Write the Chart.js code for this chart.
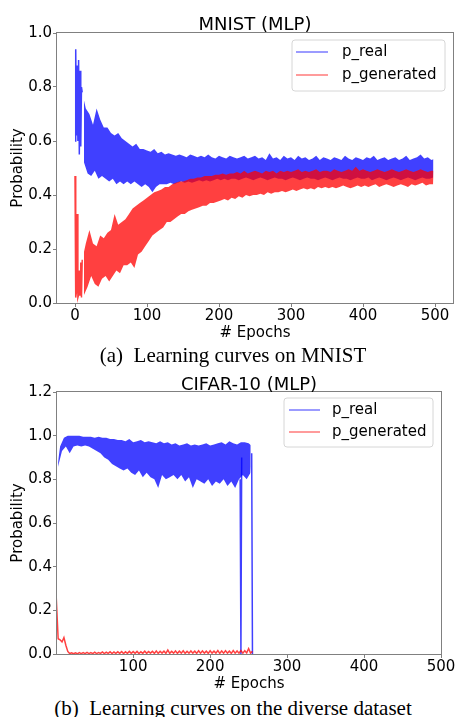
<!DOCTYPE html>
<html><head><meta charset="utf-8">
<script src="https://cdn.jsdelivr.net/npm/chart.js@4"></script>
<style>
html,body{margin:0;padding:0;background:#fff;}
body{width:456px;height:717px;position:relative;overflow:hidden;}
canvas{position:absolute;left:0;}
.t{position:absolute;font-family:'DejaVu Sans';font-size:18px;line-height:18px;color:#000;white-space:nowrap;transform:translateX(-50%);}
.cap{position:absolute;font-family:'Liberation Serif';font-size:21px;line-height:21px;color:#000;white-space:nowrap;transform:translateX(-50%);}
</style></head><body>
<canvas id="c1" width="456" height="345" style="top:0"></canvas>
<canvas id="c2" width="456" height="335" style="top:360px"></canvas>
<div class="t" style="left:255px;top:15px">MNIST (MLP)</div>
<div class="cap" style="left:233px;top:345px">(a)&nbsp; Learning curves on MNIST</div>
<div class="t" style="left:249px;top:375px">CIFAR-10 (MLP)</div>
<div class="cap" style="left:233px;top:698px">(b)&nbsp; Learning curves on the diverse dataset</div>
<script>
// ---------- DATA ----------
const seriesLabels = ['p_real', 'p_generated'];
// MNIST, first epochs read one by one
const mnistEarlyEpochs = [0,1,2,3,4,5,6,7,8,9,10];
const mnistRealEarly   = [0.60,0.94,0.62,0.88,0.60,0.90,0.55,0.86,0.58,0.80,0.78];
const mnistGenEarly    = [0.47,0.02,0.04,0.33,0.02,0.03,0.12,0.03,0.15,0.02,0.16];
// MNIST band (noisy oscillation): upper envelope at epochs 10,15,...,500 ; lower envelope at 12.5,...,497.5
const mnistRealHi = [
 0.78,0.72,0.70,0.66,0.72,0.68,0.65,0.65,
 0.63,0.62,0.63,0.61,0.60,0.59,0.58,0.59,0.57,0.57,
 0.565,0.56,0.57,0.555,0.56,0.55,0.555,0.55,0.545,0.55,
 0.545,0.54,0.55,0.545,0.54,0.545,0.54,0.55,0.54,0.535,
 0.545,0.54,0.535,0.545,0.54,0.535,0.54,0.545,0.535,0.54,
 0.545,0.535,0.54,0.53,0.555,0.535,0.54,0.53,0.545,0.535,
 0.54,0.53,0.545,0.535,0.54,0.53,0.535,0.545,0.53,0.54,
 0.535,0.53,0.54,0.535,0.53,0.545,0.535,0.53,0.54,0.535,
 0.53,0.54,0.535,0.545,0.53,0.535,0.54,0.53,0.535,0.54,
 0.53,0.535,0.545,0.53,0.535,0.54,0.55,0.535,0.54,0.53,0.535];
const mnistRealLo = [
 0.52,0.48,0.47,0.49,0.46,0.47,0.46,0.45,
 0.46,0.44,0.45,0.44,0.45,0.44,0.45,0.44,0.43,0.44,
 0.43,0.41,0.43,0.44,0.44,0.44,0.445,0.44,0.445,0.45,
 0.445,0.45,0.445,0.45,0.455,0.45,0.455,0.45,0.455,0.46,
 0.455,0.46,0.455,0.46,0.46,0.455,0.46,0.465,0.46,0.455,
 0.46,0.465,0.46,0.455,0.46,0.465,0.46,0.46,0.455,0.46,
 0.465,0.46,0.455,0.46,0.465,0.46,0.46,0.455,0.46,0.465,
 0.46,0.455,0.46,0.465,0.46,0.46,0.455,0.46,0.465,0.46,
 0.46,0.465,0.455,0.46,0.465,0.46,0.455,0.46,0.465,0.46,
 0.455,0.46,0.465,0.46,0.455,0.46,0.465,0.46,0.46,0.465];
const mnistGenHi = [
 0.16,0.22,0.27,0.22,0.21,0.25,0.24,0.26,
 0.27,0.33,0.29,0.30,0.31,0.33,0.35,0.36,0.37,0.38,
 0.39,0.40,0.41,0.415,0.42,0.43,0.43,0.44,0.445,0.45,
 0.45,0.455,0.46,0.46,0.465,0.465,0.47,0.47,0.47,0.475,
 0.475,0.48,0.475,0.48,0.48,0.485,0.48,0.49,0.48,0.485,
 0.49,0.485,0.48,0.49,0.485,0.49,0.48,0.49,0.485,0.49,
 0.485,0.49,0.495,0.485,0.49,0.485,0.49,0.495,0.485,0.49,
 0.49,0.485,0.495,0.49,0.485,0.49,0.495,0.49,0.505,0.49,
 0.495,0.49,0.485,0.49,0.495,0.49,0.485,0.49,0.495,0.49,
 0.485,0.49,0.495,0.49,0.485,0.49,0.495,0.49,0.485,0.49,0.49];
const mnistGenLo = [
 0.03,0.06,0.10,0.07,0.06,0.09,0.10,0.08,
 0.10,0.12,0.11,0.14,0.14,0.15,0.13,0.18,0.19,0.21,
 0.23,0.25,0.26,0.27,0.28,0.30,0.30,0.31,0.32,0.33,
 0.33,0.34,0.345,0.35,0.355,0.36,0.36,0.37,0.37,0.375,
 0.38,0.385,0.38,0.39,0.385,0.395,0.39,0.40,0.395,0.40,
 0.40,0.405,0.40,0.41,0.405,0.41,0.41,0.415,0.41,0.415,
 0.42,0.415,0.42,0.425,0.42,0.425,0.42,0.43,0.425,0.43,
 0.425,0.43,0.425,0.43,0.435,0.43,0.425,0.43,0.435,0.43,
 0.435,0.43,0.435,0.44,0.43,0.435,0.44,0.435,0.43,0.435,
 0.44,0.435,0.43,0.44,0.435,0.44,0.445,0.435,0.44,0.44];
// CIFAR-10 p_real band: upper at epochs 0,5,...,255 ; lower at 2.5,...,252.5
const cifarRealHi = [
 0.82,0.95,0.99,1.00,1.00,1.00,1.00,0.995,0.995,0.995,
 0.99,0.995,0.99,0.99,0.985,0.985,0.98,0.98,0.975,0.985,
 0.97,0.975,0.98,0.97,0.975,0.97,0.965,0.975,0.965,0.97,
 0.96,0.965,0.955,0.96,0.965,0.955,0.96,0.955,0.96,0.965,
 0.955,0.96,0.965,0.97,0.96,0.975,0.965,0.96,0.97,0.97,
 0.965,0.95];
const cifarRealLo = [
 0.86,0.93,0.95,0.92,0.95,0.955,0.95,0.955,0.95,0.94,
 0.93,0.92,0.90,0.89,0.87,0.86,0.85,0.84,0.85,0.83,
 0.82,0.84,0.81,0.83,0.81,0.80,0.76,0.82,0.80,0.81,
 0.82,0.80,0.82,0.79,0.81,0.76,0.80,0.79,0.78,0.80,
 0.77,0.79,0.78,0.80,0.77,0.79,0.76,0.80,0.82,0.80,
 0.83];
// CIFAR-10 p_real sudden drops, read epoch by epoch
const cifarDropEpochs = [239,240,241,254,255];
const cifarDropValues = [0.80,0.00,0.90,0.92,0.00];
// CIFAR-10 p_generated: upper at epochs 0,5,...,255 ; lower at 2.5,...,252.5
const cifarGenHi = [
 0.26,0.065,0.075,0.012,0.005,0.005,0.006,0.006,0.007,0.006,
 0.008,0.007,0.009,0.008,0.010,0.009,0.010,0.011,0.010,0.012,
 0.011,0.012,0.010,0.013,0.011,0.012,0.014,0.012,0.013,0.018,
 0.012,0.014,0.013,0.015,0.012,0.014,0.013,0.015,0.014,0.013,
 0.015,0.013,0.016,0.014,0.015,0.013,0.016,0.014,0.016,0.015,
 0.025,0.012];
const cifarGenLo = [
 0.07,0.055,0.04,0.002,0.001,0.001,0.002,0.002,0.002,0.002,
 0.002,0.003,0.002,0.003,0.002,0.003,0.003,0.002,0.003,0.003,
 0.003,0.002,0.003,0.003,0.004,0.003,0.003,0.004,0.003,0.003,
 0.004,0.003,0.004,0.003,0.004,0.004,0.003,0.004,0.004,0.003,
 0.004,0.004,0.003,0.004,0.004,0.003,0.004,0.004,0.004,0.005,
 0.004];
const mnistXTicks = [0,100,200,300,400,500];
const mnistYTicks = [0.0,0.2,0.4,0.6,0.8,1.0];
const cifarXTicks = [100,200,300,400,500];
const cifarYTicks = [0.0,0.2,0.4,0.6,0.8,1.0,1.2];

// ---------- BUILD ----------
const SAMPLE_STEP = 5;
function samples(values, x0){ return values.map((v,i)=>({x:x0 + i*SAMPLE_STEP, y:v})); }
function pairs(xs, ys){
  const out = [];
  xs.forEach((x,i)=>{
    if (i > 0 && x - xs[i-1] > 1) out.push({x:(x + xs[i-1])/2, y:null});
    out.push({x:x, y:ys[i]});
  });
  return out;
}
function zigzag(hi, lo, x0){
  const pts = [];
  for (let i = 0; i < hi.length; i++){
    pts.push({x: x0 + i*SAMPLE_STEP, y: hi[i]});
    if (i < lo.length) pts.push({x: x0 + i*SAMPLE_STEP + SAMPLE_STEP/2, y: lo[i]});
  }
  return pts;
}
const BLUE = 'rgba(0,0,255,0.75)', RED = 'rgba(255,0,0,0.75)';
const FONT = "'DejaVu Sans'";
Chart.defaults.font.family = FONT;
Chart.defaults.color = '#000';

function band(hi, lo, x0, color, order, legend){
  return [
    {label:legend, legendColor:color, data:samples(hi, x0), borderColor:'transparent', backgroundColor:color, fill:'+1', pointRadius:0, tension:0, order:order},
    {data:samples(lo, x0 + SAMPLE_STEP/2), borderColor:'transparent', backgroundColor:'transparent', fill:false, pointRadius:0, tension:0, order:order}
  ];
}
function line(data, color, order, width){
  return {data:data, borderColor:color, borderWidth:width || 1.5, fill:false, pointRadius:0, tension:0, spanGaps:false, order:order};
}

const spines = {
  id:'spines',
  afterDraw(chart){
    const {ctx, chartArea:a} = chart;
    ctx.save();
    ctx.strokeStyle = '#808080'; ctx.lineWidth = 1;
    ctx.strokeRect(Math.round(a.left)-0.5, Math.round(a.top)-0.5, Math.round(a.right-a.left)+1, Math.round(a.bottom-a.top)+1);
    ctx.restore();
  }
};
const boxLegend = {
  id:'boxLegend',
  afterDraw(chart, args, o){
    const ctx = chart.ctx;
    ctx.save();
    const r = 3, x = o.x, y = o.y, w = o.w, h = o.h;
    ctx.beginPath();
    ctx.moveTo(x+r, y); ctx.lineTo(x+w-r, y); ctx.arcTo(x+w, y, x+w, y+r, r);
    ctx.lineTo(x+w, y+h-r); ctx.arcTo(x+w, y+h, x+w-r, y+h, r);
    ctx.lineTo(x+r, y+h); ctx.arcTo(x, y+h, x, y+h-r, r);
    ctx.lineTo(x, y+r); ctx.arcTo(x, y, x+r, y, r); ctx.closePath();
    ctx.fillStyle = 'rgba(255,255,255,0.8)'; ctx.fill();
    ctx.strokeStyle = '#d6d6d6'; ctx.lineWidth = 1; ctx.stroke();
    chart.data.datasets.filter(ds => ds.label).forEach((ds, i) => {
      const ly = o.rows[i];
      ctx.globalAlpha = 0.7;
      ctx.strokeStyle = ds.legendColor; ctx.lineWidth = 1.5;
      ctx.beginPath(); ctx.moveTo(o.lx1, ly); ctx.lineTo(o.lx2, ly); ctx.stroke();
      ctx.globalAlpha = 1;
      ctx.fillStyle = '#000'; ctx.font = "15px " + FONT; ctx.textBaseline = 'middle'; ctx.textAlign = 'left';
      ctx.fillText(ds.label, o.tx, ly);
    });
    ctx.restore();
  }
};

function makeChart(id, datasets, cfg){
  return new Chart(document.getElementById(id), {
    type:'line',
    data:{datasets:datasets},
    options:{
      responsive:false, animation:false, events:[],
      layout:{padding:{top:cfg.padTop, right:cfg.padRight, left:0, bottom:0}},
      plugins:{legend:{display:false}, tooltip:{enabled:false}, filler:{propagate:false}, boxLegend:cfg.legend},
      scales:{
        x:{type:'linear', min:cfg.xmin, max:cfg.xmax,
           afterBuildTicks:s=>{s.ticks = cfg.xticks.map(v=>({value:v}));},
           afterFit:s=>{s.height = cfg.xh;},
           grid:{drawOnChartArea:false, drawTicks:true, tickLength:4, color:'#808080'},
           border:{display:false},
           ticks:{font:{size:15}, color:'#000', padding:0, maxRotation:0, autoSkip:false, callback:v=>String(v)},
           title:{display:true, text:'# Epochs', font:{size:15}, color:'#000', padding:{top:0, bottom:cfg.xtPad}}},
        y:{type:'linear', min:cfg.ymin, max:cfg.ymax,
           afterBuildTicks:s=>{s.ticks = cfg.yticks.map(v=>({value:v}));},
           afterFit:s=>{s.width = 57;},
           grid:{drawOnChartArea:false, drawTicks:true, tickLength:4, color:'#808080'},
           border:{display:false},
           ticks:{font:{size:15}, color:'#000', padding:1, callback:v=>Number(v).toFixed(1)},
           title:{display:true, text:'Probability', font:{size:15}, color:'#000', padding:{top:9, bottom:0}}}
      }
    },
    plugins:[spines, boxLegend]
  });
}

makeChart('c1', [
  ...band(mnistRealHi, mnistRealLo, 10, BLUE, 1, seriesLabels[0]),
  line(pairs(mnistEarlyEpochs, mnistRealEarly), BLUE, 1),
  ...band(mnistGenHi, mnistGenLo, 10, RED, 0, seriesLabels[1]),
  line(pairs(mnistEarlyEpochs, mnistGenEarly), RED, 0)
], {
  padTop:33, padRight:3, xmin:-25, xmax:525, ymin:0, ymax:1.0, xticks:mnistXTicks, yticks:mnistYTicks, xh:42, xtPad:3,
  legend:{x:292, y:40, w:153, h:51, rows:[52,75], lx1:296, lx2:328, tx:342}
});
const cifarGen = line(zigzag(cifarGenHi, cifarGenLo, 0), RED, 0);
cifarGen.label = seriesLabels[1]; cifarGen.legendColor = RED;
makeChart('c2', [
  ...band(cifarRealHi, cifarRealLo, 0, BLUE, 1, seriesLabels[0]),
  line(pairs(cifarDropEpochs, cifarDropValues), BLUE, 1),
  cifarGen
], {
  padTop:32, padRight:15, xmin:1, xmax:500, ymin:0, ymax:1.2, xticks:cifarXTicks, yticks:cifarYTicks, xh:41, xtPad:2,
  legend:{x:284, y:38, w:149, h:49, rows:[50,72], lx1:289, lx2:320, tx:332}
});
</script>
</body></html>
